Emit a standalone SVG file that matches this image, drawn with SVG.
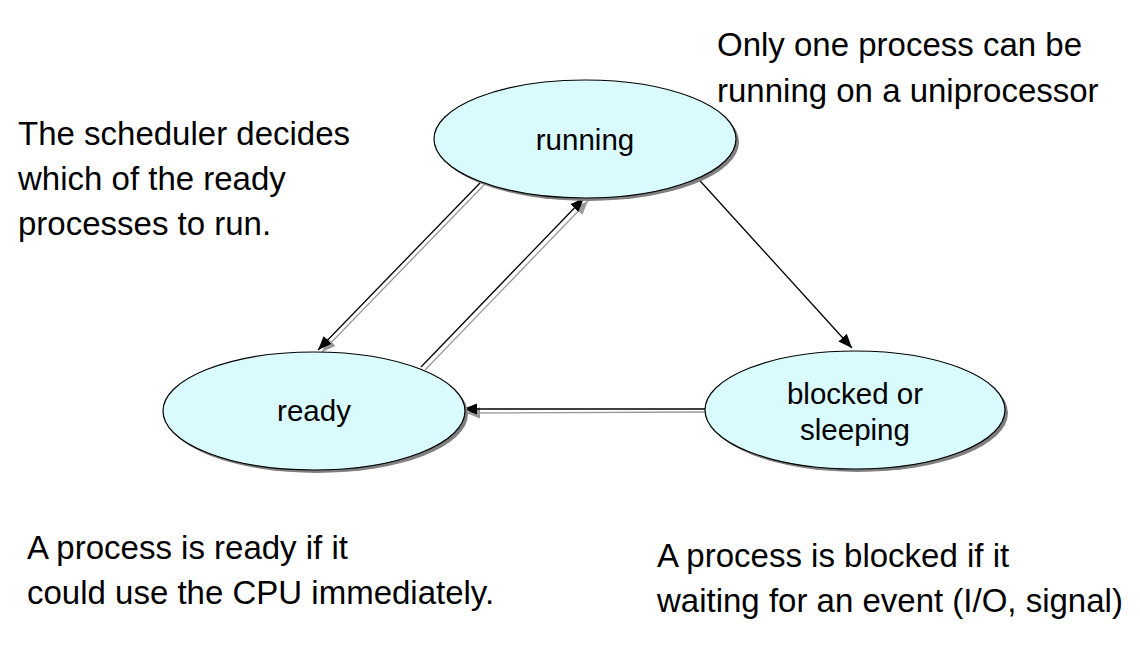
<svg xmlns="http://www.w3.org/2000/svg" width="1140" height="650" viewBox="0 0 1140 650">
<style>
.note{font-family:"Liberation Sans",Arial,sans-serif;font-size:33px;fill:#000}
.lbl{font-family:"Liberation Sans",Arial,sans-serif;font-size:29.5px;fill:#000;text-anchor:middle}
.node{fill:#d9fbfd;stroke:#000;stroke-width:1.2}
.shadow{fill:#7f7f7f}
.ln{stroke:#000;stroke-width:1.3;fill:none}
.lns{stroke:#999;stroke-width:1.3;fill:none}
</style>
<defs>
<marker id="ah" viewBox="0 0 10 10" refX="10" refY="5" markerWidth="14" markerHeight="14" markerUnits="userSpaceOnUse" orient="auto">
<path d="M0,1 L10,5 L0,9 z" fill="#000"/>
</marker>
<marker id="ahs" viewBox="0 0 10 10" refX="10" refY="5" markerWidth="14" markerHeight="14" markerUnits="userSpaceOnUse" orient="auto">
<path d="M0,1 L10,5 L0,9 z" fill="#999"/>
</marker>
</defs>
<rect width="1140" height="650" fill="#fff"/>
<g id="connectors">
<line class="lns" x1="484" y1="185" x2="322" y2="352" marker-end="url(#ahs)"/>
<line class="ln" x1="480" y1="183" x2="318" y2="350" marker-end="url(#ah)"/>
<line class="lns" x1="425" y1="370" x2="588" y2="201" marker-end="url(#ahs)"/>
<line class="ln" x1="421" y1="367" x2="584" y2="198" marker-end="url(#ah)"/>
<line class="ln" x1="692" y1="172" x2="852" y2="348" marker-end="url(#ah)"/>
<line class="lns" x1="705" y1="412" x2="466" y2="413" marker-end="url(#ahs)"/>
<line class="ln" x1="705" y1="409" x2="463" y2="409" marker-end="url(#ah)"/>
</g>
<g id="running">
<ellipse class="shadow" cx="588" cy="142" rx="151" ry="59"/>
<ellipse class="node" cx="585" cy="139" rx="151" ry="59"/>
<text class="lbl" x="585" y="150">running</text>
</g>
<g id="ready">
<ellipse class="shadow" cx="317" cy="414" rx="151" ry="59"/>
<ellipse class="node" cx="314" cy="411" rx="151" ry="59"/>
<text class="lbl" x="314" y="421">ready</text>
</g>
<g id="blocked">
<ellipse class="shadow" cx="858" cy="413" rx="150" ry="59"/>
<ellipse class="node" cx="855" cy="410" rx="150" ry="59"/>
<text class="lbl" x="855" y="404">blocked or</text>
<text class="lbl" x="855" y="440">sleeping</text>
</g>
<g id="notes">
<text class="note" x="18" y="145">The scheduler decides</text>
<text class="note" x="18" y="190">which of the ready</text>
<text class="note" x="18" y="235">processes to run.</text>
<text class="note" x="717" y="56">Only one process can be</text>
<text class="note" x="717" y="102">running on a uniprocessor</text>
<text class="note" x="27" y="559">A process is ready if it</text>
<text class="note" x="27" y="604">could use the CPU immediately.</text>
<text class="note" x="657" y="567">A process is blocked if it</text>
<text class="note" x="657" y="612">waiting for an event (I/O, signal)</text>
</g>
</svg>
